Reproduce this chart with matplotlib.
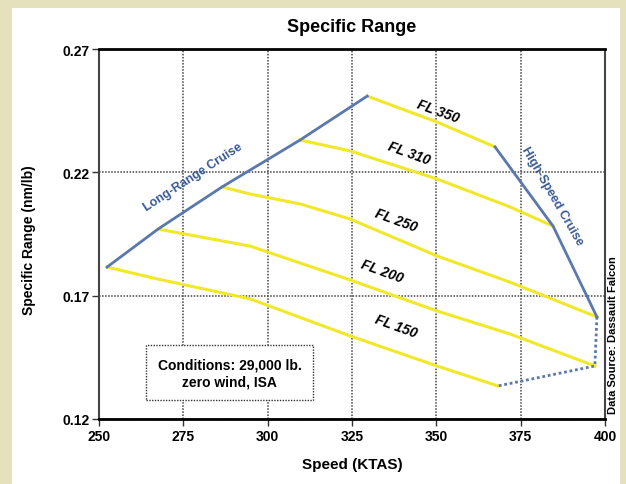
import matplotlib.pyplot as plt
from matplotlib.patches import Rectangle

# Flight level curves: speed (KTAS) vs specific range (nm/lb)
fl350_speed = [329.5, 350.2, 367.4]
fl350_range = [0.2509, 0.2404, 0.2303]
fl310_speed = [309.6, 324.4, 350.2, 371.8, 384.6]
fl310_range = [0.2331, 0.2287, 0.2173, 0.2060, 0.1982]
fl250_speed = [286.5, 294.8, 309.6, 324.4, 350.2, 371.8, 397.6]
fl250_range = [0.2141, 0.2112, 0.2072, 0.2011, 0.1861, 0.1755, 0.1614]
fl200_speed = [267.5, 294.8, 324.4, 350.2, 371.8, 397.0]
fl200_range = [0.1970, 0.1901, 0.1764, 0.1638, 0.1545, 0.1415]
fl150_speed = [252.4, 267.2, 294.8, 324.4, 350.2, 368.3]
fl150_range = [0.1816, 0.1768, 0.1687, 0.1537, 0.1415, 0.1334]

fl_labels = ["FL 350", "FL 310", "FL 250", "FL 200", "FL 150"]
fl_label_pos = [(350.5, 0.2448), (342.0, 0.2278), (338.0, 0.2008), (334.0, 0.1802), (338.0, 0.1579)]

# Cruise envelopes join the ends of the flight level curves
lrc_speed = [fl150_speed[0], fl200_speed[0], fl250_speed[0], fl310_speed[0], fl350_speed[0]]
lrc_range = [fl150_range[0], fl200_range[0], fl250_range[0], fl310_range[0], fl350_range[0]]
hsc_speed = [fl350_speed[-1], fl310_speed[-1], fl250_speed[-1]]
hsc_range = [fl350_range[-1], fl310_range[-1], fl250_range[-1]]
hsc_low_speed = [fl250_speed[-1], fl200_speed[-1], fl150_speed[-1]]
hsc_low_range = [fl250_range[-1], fl200_range[-1], fl150_range[-1]]

x_ticks = [250, 275, 300, 325, 350, 375, 400]
y_ticks = [0.12, 0.17, 0.22, 0.27]

font = ['Liberation Sans', 'DejaVu Sans']
yellow = '#f0e828'
blue = '#5a78ae'

fig = plt.figure(figsize=(6.26, 4.85), dpi=100)
fig.patch.set_facecolor('#e6e1bd')
fig.patches.append(Rectangle((12 / 626, 0), (620 - 12) / 626, (485 - 9) / 485,
                             transform=fig.transFigure, facecolor='white',
                             edgecolor='none', zorder=-10))

ax = fig.add_axes([99 / 626, 65 / 485, 506 / 626, 370 / 485])
ax.set_facecolor('white')
ax.set_xlim(250, 400)
ax.set_ylim(0.12, 0.27)

for s, r in [(fl350_speed, fl350_range), (fl310_speed, fl310_range),
             (fl250_speed, fl250_range), (fl200_speed, fl200_range),
             (fl150_speed, fl150_range)]:
    ax.plot(s, r, color=yellow, linewidth=2.2, zorder=3, solid_joinstyle='round')

ax.plot(lrc_speed, lrc_range, color=blue, linewidth=2, zorder=4)
ax.plot(hsc_speed, hsc_range, color=blue, linewidth=2, zorder=4)
ax.plot(hsc_low_speed, hsc_low_range, color=blue, linewidth=2, linestyle=(0, (1, 1)), zorder=4)

for txt, (x, y) in zip(fl_labels, fl_label_pos):
    ax.text(x, y, txt, rotation=-20, ha='center', va='center', fontsize=10,
            fontweight='bold', style='italic', family=font, zorder=5)

ax.text(278.0, 0.2182, "Long-Range Cruise", rotation=33, ha='center', va='center',
        fontsize=9, fontweight='bold', color='#3a5a96', family=font, zorder=5)
ax.text(384.2, 0.2105, "High-Speed Cruise", rotation=-60, ha='center', va='center',
        fontsize=9, fontweight='bold', color='#3a5a96', family=font, zorder=5)

ax.text(288.7, 0.1387, "Conditions: 29,000 lb.\nzero wind, ISA", ha='center', va='center',
        fontsize=10, fontweight='bold', family=font, linespacing=1.3, zorder=6,
        bbox=dict(boxstyle='square,pad=0.85', facecolor='white', edgecolor='#333333',
                  linestyle=(0, (1, 1)), linewidth=1))

ax.set_xticks(x_ticks)
ax.set_yticks(y_ticks)
ax.set_xticklabels([str(v) for v in x_ticks], family=font, fontweight='bold', fontsize=10)
ax.set_yticklabels([f"{v:.2f}" for v in y_ticks], family=font, fontweight='bold', fontsize=10)
ax.tick_params(axis='both', length=5, width=1, color='#333333', pad=2)
ax.grid(True, color='#444444', linestyle=(0, (1, 1)), linewidth=1.1, zorder=1)
ax.set_axisbelow(True)

for side in ['top', 'bottom']:
    ax.spines[side].set_linewidth(2)
    ax.spines[side].set_color('black')
for side in ['left', 'right']:
    ax.spines[side].set_linewidth(1.5)
    ax.spines[side].set_color('#444444')
    ax.spines[side].set_linestyle((0, (1, 1)))

ax.set_xlabel("Speed (KTAS)", family=font, fontweight='bold', fontsize=11, labelpad=10)
ax.set_ylabel("Specific Range (nm/lb)", family=font, fontweight='bold', fontsize=10)
ax.yaxis.set_label_coords(-0.125, 0.486)
fig.text(352 / 626, 1 - 27 / 485, "Specific Range", ha='center', va='center',
         family=font, fontweight='bold', fontsize=13)
fig.text(613 / 626, 1 - 335 / 485, "Data Source: Dassault Falcon", rotation=90,
         ha='center', va='center', family=font, fontweight='bold', fontsize=8)

fig.savefig("out.png", dpi=100, facecolor=fig.get_facecolor())
